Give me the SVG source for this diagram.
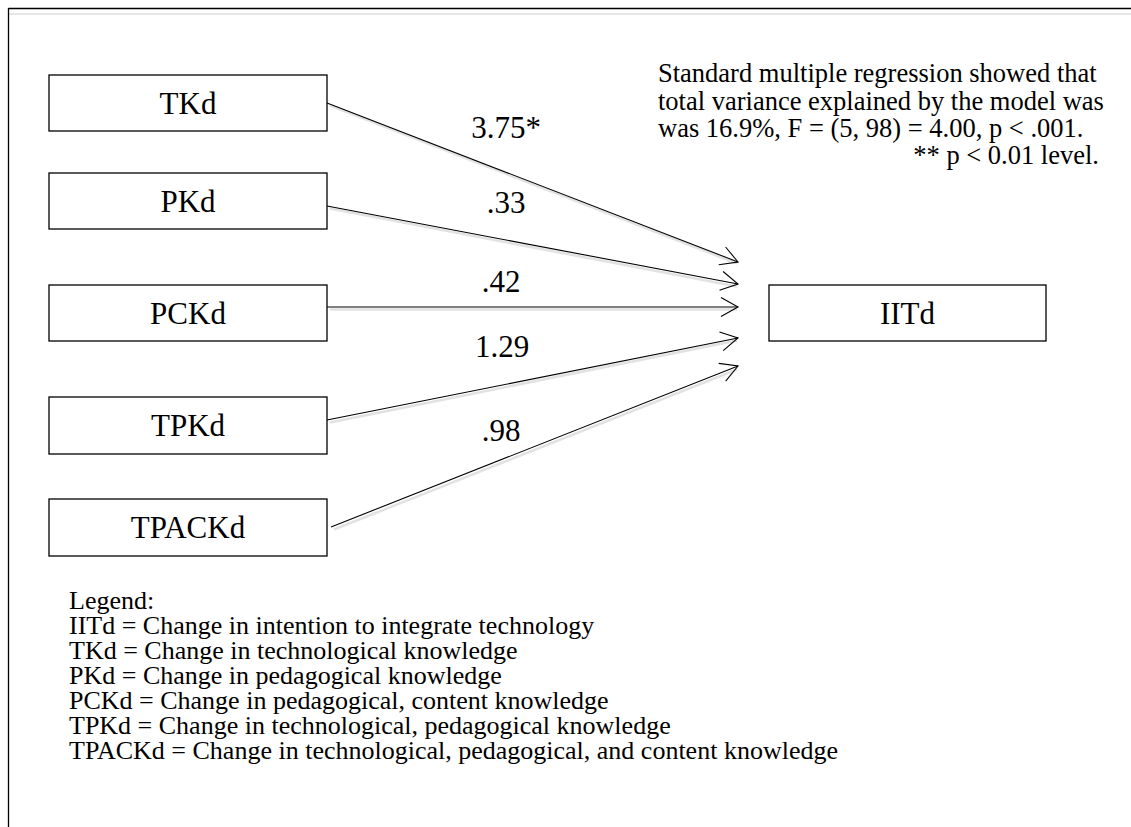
<svg xmlns="http://www.w3.org/2000/svg" width="1131" height="827" viewBox="0 0 1131 827">
<style>
text{font-family:"Liberation Serif","Times New Roman",serif;fill:#000}
.box{fill:#fff;stroke:#000;stroke-width:1.3}
.lbl{font-size:31px;text-anchor:middle}
.edge{font-size:31px;text-anchor:middle}
.note{font-size:26.5px}
.leg{font-size:26px}
.conn{stroke:#000;stroke-width:1.1;fill:none;marker-end:url(#ah)}
.shadow{stroke:#e2e2e2;stroke-width:2.5;fill:none}
</style>
<defs>
<marker id="ah" markerUnits="userSpaceOnUse" markerWidth="22" markerHeight="24" viewBox="-19 -11 22 22" refX="0" refY="0" orient="auto">
<polyline points="-17,-9.5 0,0 -17,9.5" fill="none" stroke="#000" stroke-width="1.1"/>
</marker>
</defs>
<rect x="0" y="0" width="1131" height="827" fill="#fff"/>
<g id="frame">
<line x1="9" y1="14" x2="1131" y2="14" stroke="#e6e6e6" stroke-width="2"/>
<line x1="8.5" y1="8.5" x2="1131" y2="8.5" stroke="#000" stroke-width="1.3"/>
<line x1="8.5" y1="8" x2="8.5" y2="827" stroke="#000" stroke-width="1.3"/>
</g>
<g id="connectors">
<g transform="translate(1,2.5)">
<line class="shadow" x1="329" y1="103" x2="736" y2="261"/>
<line class="shadow" x1="329" y1="206" x2="736" y2="284"/>
<line class="shadow" x1="329" y1="307" x2="736" y2="307"/>
<line class="shadow" x1="329" y1="420" x2="736" y2="338"/>
<line class="shadow" x1="333" y1="527" x2="736" y2="367"/>
</g>
<line class="conn" x1="327" y1="103" x2="738" y2="262"/>
<line class="conn" x1="327" y1="206" x2="738" y2="284"/>
<line class="conn" x1="327" y1="307" x2="738" y2="307"/>
<line class="conn" x1="327" y1="420" x2="738" y2="338"/>
<line class="conn" x1="331" y1="527" x2="738" y2="366"/>
<text class="edge" x="506" y="138">3.75*</text>
<text class="edge" x="506" y="213">.33</text>
<text class="edge" x="501" y="292">.42</text>
<text class="edge" x="502" y="357">1.29</text>
<text class="edge" x="501" y="441">.98</text>
</g>
<g id="TKd"><rect class="box" x="49" y="75" width="278" height="56"/><text class="lbl" x="188" y="114">TKd</text></g>
<g id="PKd"><rect class="box" x="49" y="173" width="278" height="56"/><text class="lbl" x="188" y="212">PKd</text></g>
<g id="PCKd"><rect class="box" x="49" y="285" width="278" height="56"/><text class="lbl" x="188" y="324">PCKd</text></g>
<g id="TPKd"><rect class="box" x="49" y="397" width="278" height="57"/><text class="lbl" x="188" y="436">TPKd</text></g>
<g id="TPACKd"><rect class="box" x="49" y="499" width="278" height="57"/><text class="lbl" x="188" y="538">TPACKd</text></g>
<g id="IITd"><rect class="box" x="769" y="285" width="277" height="56"/><text class="lbl" x="907.5" y="324">IITd</text></g>
<g id="stats">
<text class="note" x="658" y="82">Standard multiple regression showed that</text>
<text class="note" x="658" y="110">total variance explained by the model was</text>
<text class="note" x="658" y="137">was 16.9%, F = (5, 98) = 4.00, p &lt; .001.</text>
<text class="note" x="1099" y="164" text-anchor="end">** p &lt; 0.01 level.</text>
</g>
<g id="legend">
<text class="leg" x="69" y="609">Legend:</text>
<text class="leg" x="69" y="634">IITd = Change in intention to integrate technology</text>
<text class="leg" x="69" y="659">TKd = Change in technological knowledge</text>
<text class="leg" x="69" y="684">PKd = Change in pedagogical knowledge</text>
<text class="leg" x="69" y="709">PCKd = Change in pedagogical, content knowledge</text>
<text class="leg" x="69" y="734">TPKd = Change in technological, pedagogical knowledge</text>
<text class="leg" x="69" y="759">TPACKd = Change in technological, pedagogical, and content knowledge</text>
</g>
</svg>
